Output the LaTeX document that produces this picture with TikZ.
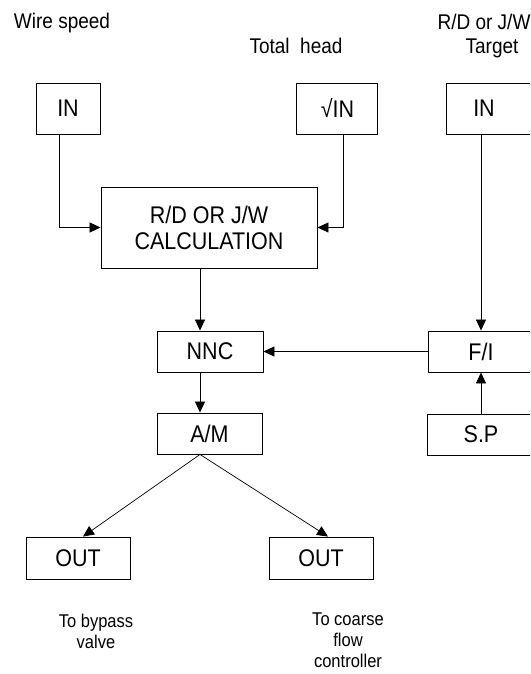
\documentclass[tikz,border=0pt]{standalone}
\usepackage{graphicx}
\usepackage{fontspec}
\setmainfont{Liberation Sans}
\usetikzlibrary{arrows.meta}
\newcommand\tallt[1]{\scalebox{1}[1.12]{#1}}
\begin{document}
\begin{tikzpicture}[x=1pt,y=-1pt,
  box/.style={draw, line width=0.9pt, inner sep=0pt, align=center, font=\fontsize{21.5}{26}\selectfont},
  lbl/.style={font=\fontsize{19}{22}\selectfont, inner sep=0pt, align=center},
  note/.style={font=\fontsize{16.5}{21}\selectfont, inner sep=0pt, align=center},
  arr/.style={-{Triangle[length=11pt,width=10pt]}, line width=0.7pt},
  ]
\clip (0,0) rectangle (530,674);
% labels
\node[lbl] (lws) at (62,23) {\tallt{Wire speed}};
\node[lbl] (lth) at (296,46) {\tallt{Total\ \ head}};
\node[lbl] (lrd) at (484,22) {\tallt{R/D or J/W}};
\node[lbl] (ltg) at (492,48) {\tallt{Target}};
% boxes
\node[box, minimum width=64pt, minimum height=51pt] (in1) at (68,108.5) {\tallt{IN}};
\node[box, minimum width=81pt, minimum height=51pt] (sqin) at (336.5,108.5) {\hspace*{2pt}\tallt{√IN}};
\node[box, minimum width=90pt, minimum height=51pt] (in2) at (491,108.5) {\tallt{IN}\hspace*{14pt}};
\node[box, minimum width=216pt, minimum height=81pt] (calc) at (209,227.5) {\tallt{R/D OR J/W}\\\tallt{CALCULATION}};
\node[box, minimum width=106pt, minimum height=41pt] (nnc) at (210,351.5) {\tallt{NNC}};
\node[box, minimum width=106pt, minimum height=41pt] (fi) at (481,351.5) {\tallt{F/I}};
\node[box, minimum width=105pt, minimum height=41pt] (am) at (209.5,433.5) {\tallt{A/M}};
\node[box, minimum width=108pt, minimum height=41pt] (sp) at (481,434.5) {\tallt{S.P}};
\node[box, minimum width=104pt, minimum height=42pt] (out1) at (78,558) {\tallt{OUT}};
\node[box, minimum width=104pt, minimum height=42pt] (out2) at (321,558) {\tallt{OUT}};
% notes
\node[note] (n1) at (96,631) {\tallt{To bypass}\\\tallt{valve}};
\node[note] (n2) at (348,640) {\tallt{To coarse}\\\tallt{flow}\\\tallt{controller}};
% connectors
\draw[arr] (in1.south -| 59,0) |- (calc.west);
\draw[arr] (sqin.south -| 343,0) |- (calc.east);
\draw[arr] (calc.south -| 200,0) -- (nnc.north -| 200,0);
\draw[arr] (nnc.south -| 200,0) -- (am.north -| 200,0);
\draw[arr] (fi.west) -- (nnc.east);
\draw[arr] (in2.south -| 481,0) -- (fi.north -| 481,0);
\draw[arr] (sp.north -| 481,0) -- (fi.south -| 481,0);
\draw[arr] (am.south -| 200,0) -- (out1.north -| 83,0);
\draw[arr] (am.south -| 200,0) -- (out2.north -| 328,0);
\end{tikzpicture}
\end{document}
